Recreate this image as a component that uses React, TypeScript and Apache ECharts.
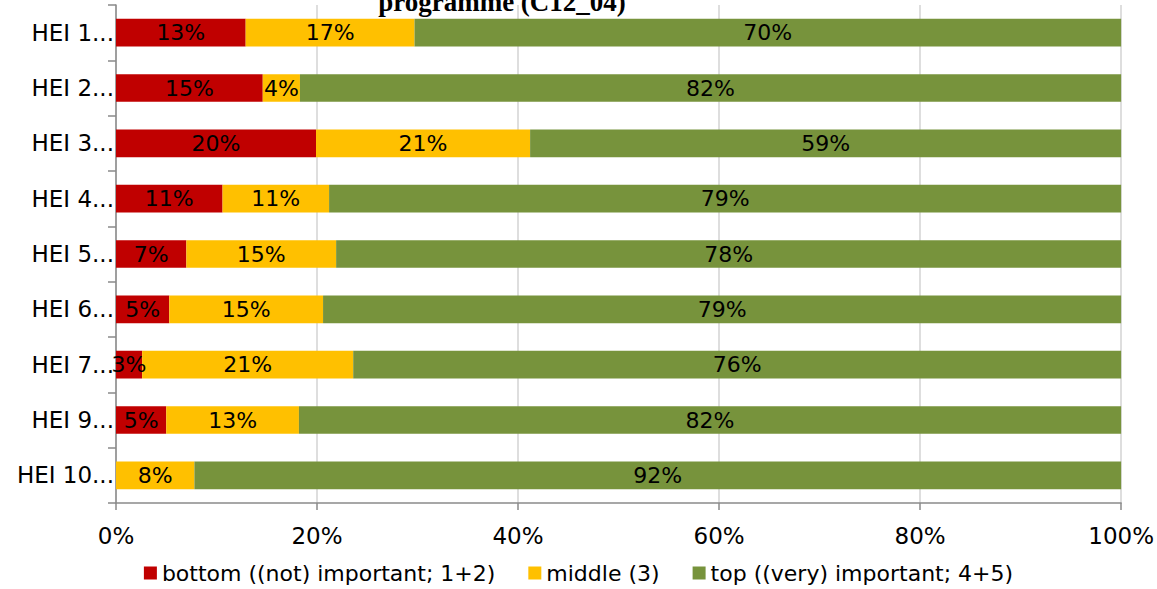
import React, { useEffect, useRef } from "react";
import * as echarts from "echarts";

const categories = ["HEI 1...", "HEI 2...", "HEI 3...", "HEI 4...", "HEI 5...", "HEI 6...", "HEI 7...", "HEI 9...", "HEI 10..."];
const bottomValues = [12.9, 14.6, 19.9, 10.6, 7.0, 5.3, 2.6, 5.0, 0];
const middleValues = [16.8, 3.7, 21.3, 10.6, 14.9, 15.3, 21.0, 13.2, 7.8];
const topValues = [70.3, 81.7, 58.8, 78.8, 78.1, 79.4, 76.4, 81.8, 92.2];
const seriesNames = ["bottom ((not) important; 1+2)", "middle (3)", "top ((very) important; 4+5)"];
const seriesColors = ["#C00000", "#FFC000", "#77933C"];
const titleLine = "programme (C12_04)";

const FONT = "'DejaVu Sans', 'Liberation Sans', Arial, sans-serif";

export default function App() {
  const ref = useRef<HTMLDivElement>(null);
  useEffect(() => {
    document.body.style.margin = "0";
    if (!ref.current) return;
    const chart = echarts.init(ref.current, null, { renderer: "svg" });
    const mk = (name: string, data: number[], color: string) => ({
      name,
      type: "bar",
      stack: "total",
      data,
      barWidth: "50%",
      itemStyle: { color },
      label: {
        show: true,
        position: "inside",
        color: "#000",
        fontFamily: FONT,
        fontSize: 22,
        formatter: (p: any) => (p.value > 0 ? Math.round(p.value) + "%" : ""),
      },
    });
    chart.setOption({
      animation: false,
      grid: { left: 116, right: 35, top: 5, bottom: 86, containLabel: false },
      graphic: [
        {
          type: "text",
          x: 502,
          y: 2,
          style: {
            text: titleLine,
            font: "bold 27px 'Liberation Serif', 'Times New Roman', serif",
            fill: "#000",
            align: "center",
            verticalAlign: "middle",
          },
        },
      ],
      legend: {
        bottom: 0,
        left: "center",
        icon: "rect",
        itemWidth: 13,
        itemHeight: 13,
        itemGap: 33,
        textStyle: { fontFamily: FONT, fontSize: 22, color: "#000" },
        data: seriesNames,
      },
      xAxis: {
        type: "value",
        min: 0,
        max: 100,
        interval: 20,
        axisLine: { show: true, lineStyle: { color: "#8a8a8a", width: 1.5 } },
        axisTick: { show: true, length: 7, lineStyle: { color: "#8a8a8a", width: 1.5 } },
        splitLine: { show: true, lineStyle: { color: "#DEDEDE", width: 2 } },
        axisLabel: { formatter: "{value}%", fontFamily: FONT, fontSize: 23, color: "#000", margin: 21 },
      },
      yAxis: {
        type: "category",
        inverse: true,
        data: categories,
        axisLine: { show: true, lineStyle: { color: "#8a8a8a", width: 1.5 } },
        axisTick: { show: true, length: 8, lineStyle: { color: "#8a8a8a", width: 1.5 } },
        axisLabel: { fontFamily: FONT, fontSize: 23, color: "#000", margin: 2 },
      },
      series: [
        mk(seriesNames[0], bottomValues, seriesColors[0]),
        mk(seriesNames[1], middleValues, seriesColors[1]),
        mk(seriesNames[2], topValues, seriesColors[2]),
      ],
    });
    return () => chart.dispose();
  }, []);
  return <div ref={ref} style={{ width: 1157, height: 589 }} />;
}
